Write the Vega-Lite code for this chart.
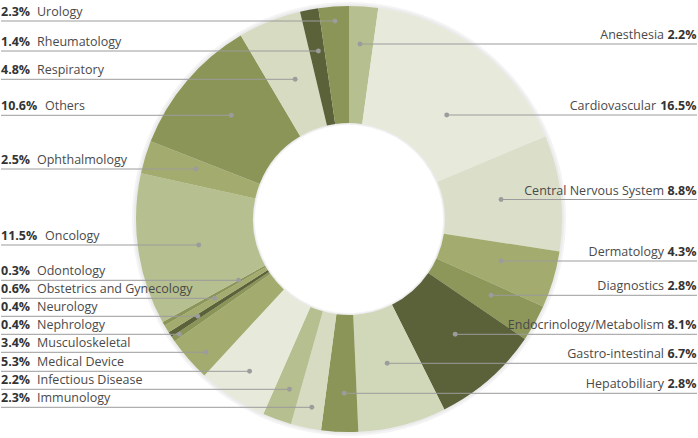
{
  "$schema": "https://vega.github.io/schema/vega-lite/v6.json",
  "width": 698,
  "height": 438,
  "padding": 0,
  "autosize": {"type": "fit", "contains": "padding"},
  "background": "white",
  "config": {"view": {"stroke": null}, "font": "Open Sans"},
  "data": {
    "values": [
      {"category": "Anesthesia", "share": 0.022, "side": "right", "anchorX": 360, "anchorY": 44},
      {"category": "Cardiovascular", "share": 0.165, "side": "right", "anchorX": 447, "anchorY": 115},
      {"category": "Central Nervous System", "share": 0.088, "side": "right", "anchorX": 501.5, "anchorY": 199.5},
      {"category": "Dermatology", "share": 0.043, "side": "right", "anchorX": 501.5, "anchorY": 261},
      {"category": "Diagnostics", "share": 0.028, "side": "right", "anchorX": 491.5, "anchorY": 295.3},
      {"category": "Endocrinology/Metabolism", "share": 0.081, "side": "right", "anchorX": 455.5, "anchorY": 334.3},
      {"category": "Gastro-intestinal", "share": 0.067, "side": "right", "anchorX": 387.3, "anchorY": 363.3},
      {"category": "Hepatobiliary", "share": 0.028, "side": "right", "anchorX": 344.2, "anchorY": 393.3},
      {"category": "Immunology", "share": 0.023, "side": "left", "anchorX": 311.7, "anchorY": 407.3},
      {"category": "Infectious Disease", "share": 0.022, "side": "left", "anchorX": 289.3, "anchorY": 389.3},
      {"category": "Medical Device", "share": 0.053, "side": "left", "anchorX": 249.3, "anchorY": 371.3},
      {"category": "Musculoskeletal", "share": 0.034, "side": "left", "anchorX": 205.7, "anchorY": 352.3},
      {"category": "Nephrology", "share": 0.004, "side": "left", "anchorX": 179, "anchorY": 334.3},
      {"category": "Neurology", "share": 0.004, "side": "left", "anchorX": 197.3, "anchorY": 316.3},
      {"category": "Obstetrics and Gynecology", "share": 0.006, "side": "left", "anchorX": 214.3, "anchorY": 298.3},
      {"category": "Odontology", "share": 0.003, "side": "left", "anchorX": 238.3, "anchorY": 280.3},
      {"category": "Oncology", "share": 0.115, "side": "left", "anchorX": 198.3, "anchorY": 245},
      {"category": "Ophthalmology", "share": 0.025, "side": "left", "anchorX": 195.7, "anchorY": 169},
      {"category": "Others", "share": 0.106, "side": "left", "anchorX": 231, "anchorY": 115.3},
      {"category": "Respiratory", "share": 0.048, "side": "left", "anchorX": 295, "anchorY": 79.3},
      {"category": "Rheumatology", "share": 0.014, "side": "left", "anchorX": 318.3, "anchorY": 51},
      {"category": "Urology", "share": 0.023, "side": "left", "anchorX": 335, "anchorY": 21}
    ]
  },
  "layer": [
    {
      "mark": {"type": "arc", "radius": 217, "radius2": 94, "color": "#f4f4f4"},
      "encoding": {
        "theta": {"field": "share", "type": "quantitative", "stack": true},
        "order": {"field": "category", "sort": "ascending"}
      }
    },
    {
      "mark": {"type": "arc", "radius": 215, "radius2": 95, "color": "#ebebeb"},
      "encoding": {
        "theta": {"field": "share", "type": "quantitative", "stack": true},
        "order": {"field": "category", "sort": "ascending"}
      }
    },
    {
      "mark": {"type": "arc", "radius": 213, "radius2": 96},
      "encoding": {
        "theta": {"field": "share", "type": "quantitative", "stack": true},
        "order": {"field": "category", "sort": "ascending"},
        "color": {
          "field": "category",
          "type": "nominal",
          "legend": null,
          "scale": {
            "domain": ["Anesthesia", "Cardiovascular", "Central Nervous System", "Dermatology", "Diagnostics", "Endocrinology/Metabolism", "Gastro-intestinal", "Hepatobiliary", "Immunology", "Infectious Disease", "Medical Device", "Musculoskeletal", "Nephrology", "Neurology", "Obstetrics and Gynecology", "Odontology", "Oncology", "Ophthalmology", "Others", "Respiratory", "Rheumatology", "Urology"],
            "range": ["#b6bf90", "#e7eadb", "#dbdfc9", "#a3ac6e", "#8c9759", "#5b623a", "#d1d7b9", "#8a9557", "#d6dbc1", "#b6bf90", "#e7eadb", "#a3ac6e", "#8a9557", "#5b623a", "#a3ac6e", "#8a9557", "#b6bf90", "#a3ac6e", "#8a9557", "#d6dbc1", "#5b623a", "#8a9557"]
          }
        }
      }
    },
    {
      "transform": [{"filter": "datum.side == 'left'"}],
      "mark": {"type": "rule", "color": "#9c9c9c", "strokeWidth": 1},
      "encoding": {
        "x": {"field": "anchorX", "type": "quantitative", "scale": {"domain": [0, 698], "nice": false, "zero": false}, "axis": null},
        "x2": {"datum": 0},
        "y": {"field": "anchorY", "type": "quantitative", "scale": {"domain": [0, 438], "nice": false, "zero": false, "reverse": true}, "axis": null}
      }
    },
    {
      "transform": [{"filter": "datum.side == 'right'"}],
      "mark": {"type": "rule", "color": "#9c9c9c", "strokeWidth": 1},
      "encoding": {
        "x": {"field": "anchorX", "type": "quantitative", "scale": {"domain": [0, 698], "nice": false, "zero": false}, "axis": null},
        "x2": {"datum": 698},
        "y": {"field": "anchorY", "type": "quantitative", "scale": {"domain": [0, 438], "nice": false, "zero": false, "reverse": true}, "axis": null}
      }
    },
    {
      "mark": {"type": "point", "filled": true, "color": "#9c9c9c", "opacity": 1, "size": 24},
      "encoding": {
        "x": {"field": "anchorX", "type": "quantitative", "scale": {"domain": [0, 698], "nice": false, "zero": false}, "axis": null},
        "y": {"field": "anchorY", "type": "quantitative", "scale": {"domain": [0, 438], "nice": false, "zero": false, "reverse": true}, "axis": null}
      }
    },
    {
      "transform": [{"filter": "datum.side == 'left'"}],
      "mark": {"type": "text", "align": "left", "baseline": "alphabetic", "dy": -5, "fontSize": 12.5, "fontWeight": "bold", "color": "#333333"},
      "encoding": {
        "x": {"datum": 0, "type": "quantitative", "scale": {"domain": [0, 698], "nice": false, "zero": false}, "axis": null},
        "y": {"field": "anchorY", "type": "quantitative", "scale": {"domain": [0, 438], "nice": false, "zero": false, "reverse": true}, "axis": null},
        "text": {"field": "share", "type": "quantitative", "format": ".1%"}
      }
    },
    {
      "transform": [{"filter": "datum.side == 'left' && datum.share < 0.1"}],
      "mark": {"type": "text", "align": "left", "baseline": "alphabetic", "dx": 36, "dy": -5, "fontSize": 12.5, "color": "#4a4a4a"},
      "encoding": {
        "x": {"datum": 0, "type": "quantitative", "scale": {"domain": [0, 698], "nice": false, "zero": false}, "axis": null},
        "y": {"field": "anchorY", "type": "quantitative", "scale": {"domain": [0, 438], "nice": false, "zero": false, "reverse": true}, "axis": null},
        "text": {"field": "category", "type": "nominal"}
      }
    },
    {
      "transform": [{"filter": "datum.side == 'left' && datum.share >= 0.1"}],
      "mark": {"type": "text", "align": "left", "baseline": "alphabetic", "dx": 44, "dy": -5, "fontSize": 12.5, "color": "#4a4a4a"},
      "encoding": {
        "x": {"datum": 0, "type": "quantitative", "scale": {"domain": [0, 698], "nice": false, "zero": false}, "axis": null},
        "y": {"field": "anchorY", "type": "quantitative", "scale": {"domain": [0, 438], "nice": false, "zero": false, "reverse": true}, "axis": null},
        "text": {"field": "category", "type": "nominal"}
      }
    },
    {
      "transform": [{"filter": "datum.side == 'right'"}],
      "mark": {"type": "text", "align": "right", "baseline": "alphabetic", "dx": -0.5, "dy": -5, "fontSize": 12.5, "fontWeight": "bold", "color": "#333333"},
      "encoding": {
        "x": {"datum": 698, "type": "quantitative", "scale": {"domain": [0, 698], "nice": false, "zero": false}, "axis": null},
        "y": {"field": "anchorY", "type": "quantitative", "scale": {"domain": [0, 438], "nice": false, "zero": false, "reverse": true}, "axis": null},
        "text": {"field": "share", "type": "quantitative", "format": ".1%"}
      }
    },
    {
      "transform": [{"filter": "datum.side == 'right' && datum.share < 0.1"}],
      "mark": {"type": "text", "align": "right", "baseline": "alphabetic", "dx": -33, "dy": -5, "fontSize": 12.5, "color": "#4a4a4a"},
      "encoding": {
        "x": {"datum": 698, "type": "quantitative", "scale": {"domain": [0, 698], "nice": false, "zero": false}, "axis": null},
        "y": {"field": "anchorY", "type": "quantitative", "scale": {"domain": [0, 438], "nice": false, "zero": false, "reverse": true}, "axis": null},
        "text": {"field": "category", "type": "nominal"}
      }
    },
    {
      "transform": [{"filter": "datum.side == 'right' && datum.share >= 0.1"}],
      "mark": {"type": "text", "align": "right", "baseline": "alphabetic", "dx": -41, "dy": -5, "fontSize": 12.5, "color": "#4a4a4a"},
      "encoding": {
        "x": {"datum": 698, "type": "quantitative", "scale": {"domain": [0, 698], "nice": false, "zero": false}, "axis": null},
        "y": {"field": "anchorY", "type": "quantitative", "scale": {"domain": [0, 438], "nice": false, "zero": false, "reverse": true}, "axis": null},
        "text": {"field": "category", "type": "nominal"}
      }
    }
  ]
}
